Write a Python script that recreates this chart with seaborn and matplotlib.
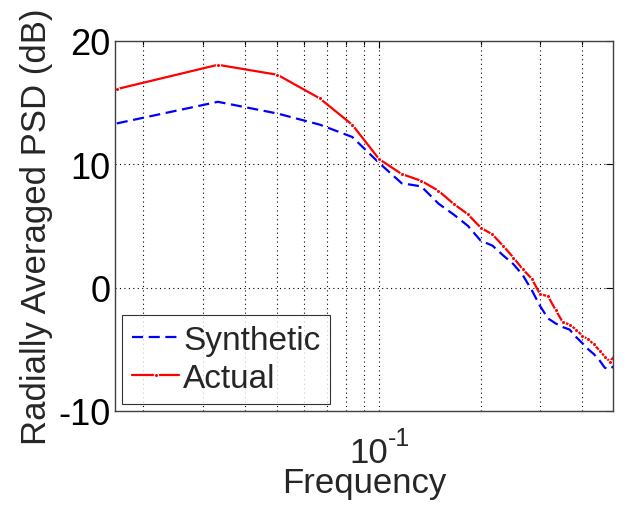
import matplotlib
matplotlib.use('Agg')
import matplotlib.pyplot as plt
import pandas as pd
import seaborn as sns
from matplotlib.ticker import FixedLocator, NullFormatter

# radially averaged PSD
freq = [0.0167, 0.0333, 0.0500, 0.0667, 0.0833, 0.1000, 0.1167, 0.1333,
        0.1500, 0.1667, 0.1833, 0.2000, 0.2167, 0.2333, 0.2500, 0.2667,
        0.2833, 0.3000, 0.3167, 0.3333, 0.3500, 0.3667, 0.3833, 0.4000,
        0.4167, 0.4333, 0.4500, 0.4667, 0.4833, 0.5000]
synthetic = [13.3, 15.05, 14.1, 13.2, 12.2, 10.1, 8.45, 8.2, 6.8, 5.9,
             5.0, 3.8, 3.4, 2.6, 1.9, 1.0, -0.2, -1.5, -2.5, -2.9,
             -3.2, -3.4, -4.0, -4.5, -5.0, -5.4, -5.9, -6.5, -6.6, -6.3]
actual = [16.08, 18.05, 17.24, 15.33, 13.19, 10.41, 9.2, 8.65, 7.84, 6.76,
          5.94, 4.86, 4.3, 3.37, 2.43, 1.48, 0.73, -0.54, -0.7, -1.8,
          -2.8, -3.0, -3.4, -3.9, -4.2, -4.6, -5.1, -5.6, -6.0, -5.5]

xminor = [0.02, 0.03, 0.04, 0.05, 0.06, 0.07, 0.08, 0.09, 0.2, 0.3, 0.4]
yticks = [-10, 0, 10, 20]

df = pd.DataFrame({'freq': freq, 'Synthetic': synthetic, 'Actual': actual})

sns.set_style('white')
plt.rcParams['font.family'] = ['Liberation Sans', 'DejaVu Sans']
plt.rcParams['axes.unicode_minus'] = False

fig = plt.figure(figsize=(6.26, 5.10), dpi=100)
ax = fig.add_axes([0.1837, 0.1922, 0.7963, 0.726])

sns.lineplot(data=df, x='freq', y='Synthetic', ax=ax, color='#0000ff',
             linewidth=1.6, linestyle=(0, (5, 2.5)), label='Synthetic')
sns.lineplot(data=df, x='freq', y='Actual', ax=ax, color='#ff0000',
             linewidth=1.6, marker='.', markersize=6, markeredgewidth=0.8,
             label='Actual')

ax.set_xscale('log')
ax.set_xlim(0.0165, 0.495)
ax.set_ylim(-10, 20)
ax.set_xticks([0.1])
ax.set_xticklabels([''])
ax.xaxis.set_minor_locator(FixedLocator(xminor))
ax.xaxis.set_minor_formatter(NullFormatter())
ax.set_yticks(yticks)

# the 10^-1 tick label, MATLAB style (base and exponent side by side)
ax.annotate('10', xy=(0.1, 0), xycoords=('data', 'axes fraction'),
            xytext=(9, -25), textcoords='offset pixels', ha='right', va='top',
            fontsize=25)
ax.annotate('-1', xy=(0.1, 0), xycoords=('data', 'axes fraction'),
            xytext=(9, -15), textcoords='offset pixels', ha='left', va='top',
            fontsize=18)

ax.grid(True, which='both', axis='x', color='black', linestyle=(0, (1, 3)), linewidth=0.8)
ax.grid(True, which='major', axis='y', color='black', linestyle=(0, (1, 3)), linewidth=0.8)

ax.tick_params(which='both', direction='in', top=True, right=True,
               labelsize=26, colors='black', width=0.8)
ax.tick_params(which='major', length=5)
ax.tick_params(axis='y', which='major', pad=3)
ax.tick_params(which='minor', length=3)
for s in ax.spines.values():
    s.set_color('#404040')
    s.set_linewidth(1.0)

ax.set_xlabel('Frequency', fontsize=25)
ax.xaxis.set_label_coords(0.5, -0.148)
ax.set_ylabel('Radially Averaged PSD (dB)', fontsize=25)
ax.yaxis.set_label_coords(-0.124, 0.5)

leg = ax.legend(loc='lower left', fontsize=24, handlelength=1.4,
                handletextpad=0.12, borderpad=0.3, labelspacing=0.2,
                frameon=True, fancybox=False, borderaxespad=0.22)
leg.get_frame().set_edgecolor('black')
leg.get_frame().set_linewidth(0.8)

fig.savefig('out.png', dpi=100)
